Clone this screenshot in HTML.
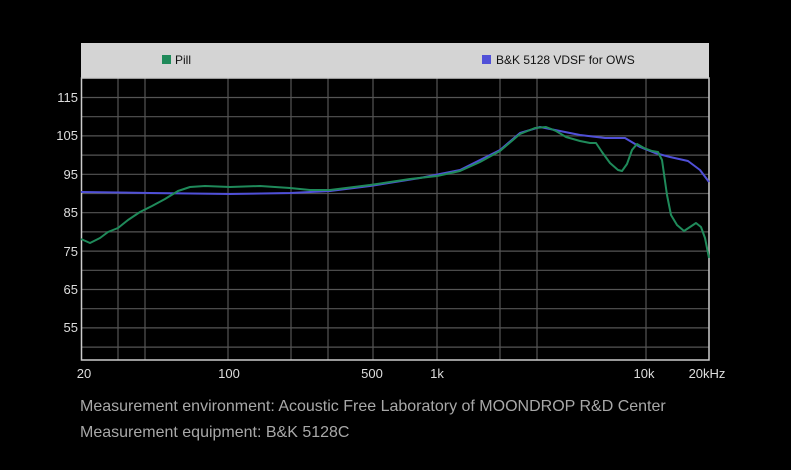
<!DOCTYPE html>
<html><head><style>
html,body{margin:0;padding:0;background:#000;}
svg{display:block;}
</style></head><body>
<svg width="791" height="470" viewBox="0 0 791 470" xmlns="http://www.w3.org/2000/svg" font-family="Liberation Sans, sans-serif">
<rect width="791" height="470" fill="#000"/>
<rect x="81" y="43" width="628" height="35" fill="#d4d4d4"/>
<rect x="162" y="55" width="9" height="9" fill="#1f8a5a"/>
<text x="175" y="64" font-size="12" fill="#111">Pill</text>
<rect x="482" y="55" width="9" height="9" fill="#5050d8"/>
<text x="496" y="64" font-size="12" fill="#111">B&amp;K 5128 VDSF for OWS</text>
<g stroke="#555" stroke-width="1.2">
<line x1="81" y1="97.5" x2="709" y2="97.5"/><line x1="81" y1="116.7" x2="709" y2="116.7"/>
<line x1="81" y1="135.9" x2="709" y2="135.9"/><line x1="81" y1="155.1" x2="709" y2="155.1"/>
<line x1="81" y1="174.3" x2="709" y2="174.3"/><line x1="81" y1="193.5" x2="709" y2="193.5"/>
<line x1="81" y1="212.7" x2="709" y2="212.7"/><line x1="81" y1="231.9" x2="709" y2="231.9"/>
<line x1="81" y1="251.1" x2="709" y2="251.1"/><line x1="81" y1="270.3" x2="709" y2="270.3"/>
<line x1="81" y1="289.5" x2="709" y2="289.5"/><line x1="81" y1="308.7" x2="709" y2="308.7"/>
<line x1="81" y1="327.9" x2="709" y2="327.9"/><line x1="81" y1="347.1" x2="709" y2="347.1"/>
<line x1="118" y1="78" x2="118" y2="360"/><line x1="145" y1="78" x2="145" y2="360"/>
<line x1="228" y1="78" x2="228" y2="360"/><line x1="291" y1="78" x2="291" y2="360"/>
<line x1="328" y1="78" x2="328" y2="360"/><line x1="373" y1="78" x2="373" y2="360"/>
<line x1="437" y1="78" x2="437" y2="360"/><line x1="500" y1="78" x2="500" y2="360"/>
<line x1="537" y1="78" x2="537" y2="360"/><line x1="646" y1="78" x2="646" y2="360"/>
</g>
<rect x="81.5" y="78" width="627.5" height="282" fill="none" stroke="#ccc" stroke-width="1.5"/>
<g font-size="13" fill="#ddd" text-anchor="end">
<text x="78" y="102">115</text><text x="78" y="140">105</text><text x="78" y="179">95</text>
<text x="78" y="217">85</text><text x="78" y="256">75</text><text x="78" y="294">65</text><text x="78" y="332">55</text>
</g>
<g font-size="13" fill="#ddd" text-anchor="middle">
<text x="84" y="378">20</text><text x="229" y="378">100</text><text x="372" y="378">500</text>
<text x="437" y="378">1k</text><text x="644" y="378">10k</text><text x="707" y="378">20kHz</text>
</g>
<path d="M81,192 L150,193 L230,194 L290,193 L330,191 L370,186 L420,178 L460,170 L500,150 L520,133 L540,127 L560,131 L580,135 L605,138 L625,138 L640,147 L655,153 L670,157 L688,161 L700,170 L709,182" fill="none" stroke="#5050d8" stroke-width="2" stroke-linejoin="round"/>
<path d="M81,239 L90,243 L100,238 L108,232 L118,228 L128,220 L140,212 L152,206 L165,199 L178,191 L190,187 L205,186 L230,187 L260,186 L290,188 L310,190 L330,190 L370,185 L410,179 L437,176 L460,171 L480,162 L500,151 L520,134 L535,128 L546,127 L556,131 L566,137 L580,141 L590,143 L596,143 L602,152 L610,163 L618,170 L622,171 L627,164 L632,150 L637,144 L644,148 L652,151 L658,152 L662,160 L667,195 L671,215 L677,225 L684,231 L690,227 L696,223 L701,227 L705,238 L709,258" fill="none" stroke="#1f8a5a" stroke-width="2" stroke-linejoin="round"/>
<g font-size="16" fill="#a8a8a8">
<text x="80" y="411">Measurement environment: Acoustic Free Laboratory of MOONDROP R&amp;D Center</text>
<text x="80" y="437">Measurement equipment: B&amp;K 5128C</text>
</g>
</svg>
</body></html>
